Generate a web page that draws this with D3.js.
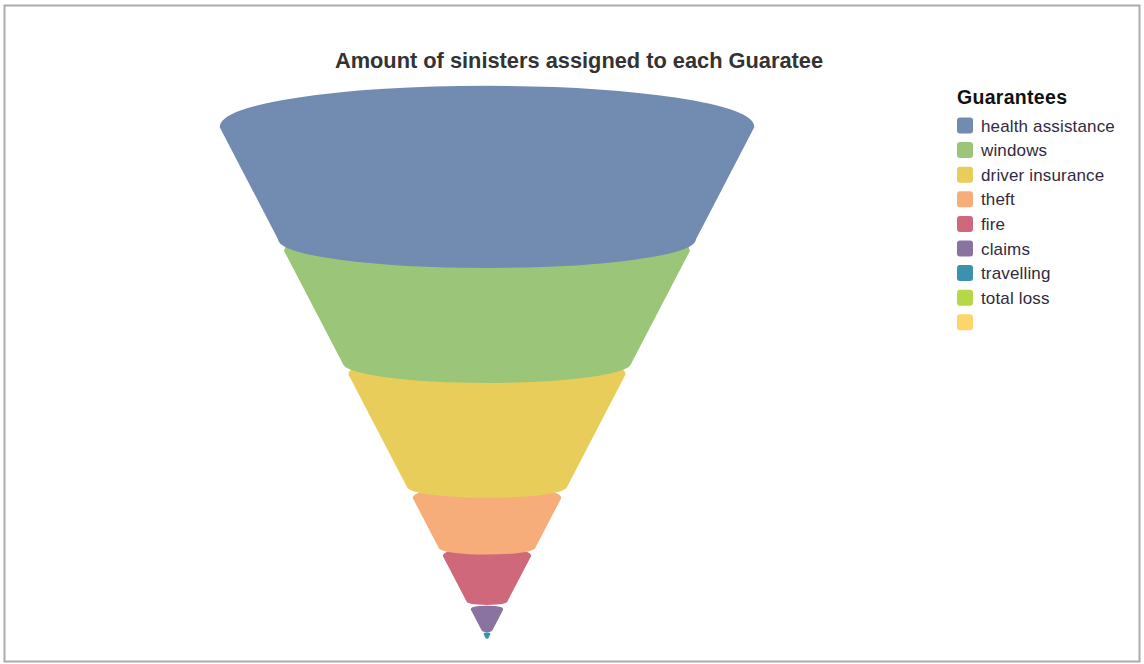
<!DOCTYPE html>
<html>
<head>
<meta charset="utf-8">
<script src="https://cdn.jsdelivr.net/npm/d3@7"></script>
<style>
  html, body { margin: 0; padding: 0; background: #fff; }
  svg { display: block; font-family: "Liberation Sans", Arial, sans-serif; }
</style>
</head>
<body>
<svg id="chart" width="1144" height="664"></svg>
<script>
// Guarantees and the number of sinisters for each
const categories = ["health assistance", "windows", "driver insurance", "theft", "fire", "claims", "travelling", "total loss", ""];
const values = [30, 30, 30, 14, 13, 6, 1, 0, 0];
const colors = ["#728bb1", "#9bc578", "#e8cd5a", "#f6ad79", "#cf687a", "#8a72a1", "#3a92ae", "#b6d846", "#fdd56b"];
const chartTitle = "Amount of sinisters assigned to each Guaratee";
const legendTitle = "Guarantees";

const W = 1144, H = 664;
const svg = d3.select("#chart");

// outer frame
svg.append("rect")
  .attr("x", 4.5).attr("y", 5.5)
  .attr("width", 1135).attr("height", 656)
  .attr("fill", "#fff")
  .attr("stroke", "#ababab").attr("stroke-width", 2);

// title
svg.append("text")
  .attr("x", 579).attr("y", 68)
  .attr("text-anchor", "middle")
  .attr("font-size", 21.8).attr("font-weight", "bold")
  .attr("fill", "#333")
  .text(chartTitle);

// funnel geometry: cumulative value -> vertical position, depth -> half width
const total = d3.sum(values);
const cx = 487, yTop = 127, yApex = 638, topHalfWidth = 266;
const y = d3.scaleLinear().domain([0, total]).range([yTop, yApex]);
const halfW = d3.scaleLinear().domain([yTop, yApex]).range([topHalfWidth, 0]);

const cum = [0];
values.forEach(v => cum.push(cum[cum.length - 1] + v));

const segments = categories.map((c, i) => {
  const y0 = y(cum[i]);
  const yEnd = y(cum[i + 1]);
  const gap = Math.min(12, (yEnd - y0) * 0.15);
  return { name: c, value: values[i], color: colors[i], y0: y0, y1: yEnd - gap, i: i };
}).filter(d => d.value > 0);

function segmentPath(d) {
  const w0 = halfW(d.y0), w1 = halfW(d.y1);
  const r0 = w0 * 0.15, r1 = w1 * 0.135;
  const p = d3.path();
  const k = 0.5523;
  p.moveTo(cx - w0, d.y0);
  // upper rim, bulging up
  p.bezierCurveTo(cx - w0, d.y0 - r0 * k, cx - w0 * k, d.y0 - r0, cx, d.y0 - r0);
  p.bezierCurveTo(cx + w0 * k, d.y0 - r0, cx + w0, d.y0 - r0 * k, cx + w0, d.y0);
  p.lineTo(cx + w1, d.y1);
  // lower rim, bulging down
  p.bezierCurveTo(cx + w1, d.y1 + r1 * k, cx + w1 * k, d.y1 + r1, cx, d.y1 + r1);
  p.bezierCurveTo(cx - w1 * k, d.y1 + r1, cx - w1, d.y1 + r1 * k, cx - w1, d.y1);
  p.closePath();
  return p.toString();
}

// draw bottom segments first so each upper rim sits in front
svg.append("g").selectAll("path")
  .data(segments.slice().reverse())
  .join("path")
  .attr("d", segmentPath)
  .attr("fill", d => d.color)
  .attr("stroke", d => d.color)
  .attr("stroke-width", 2.5)
  .attr("stroke-linejoin", "round");

// legend
const legend = svg.append("g").attr("transform", "translate(957,0)");
legend.append("text")
  .attr("x", 0).attr("y", 104)
  .attr("font-size", 19.5).attr("font-weight", "bold")
  .attr("letter-spacing", 0.3)
  .attr("fill", "#111")
  .text(legendTitle);

const ly = d3.scaleBand().domain(d3.range(categories.length)).range([114, 114 + 24.6 * categories.length]);
const items = legend.selectAll("g.item")
  .data(categories.map((c, i) => ({ name: c, color: colors[i], i: i })))
  .join("g").attr("class", "item")
  .attr("transform", d => `translate(0,${ly(d.i)})`);
items.append("rect")
  .attr("x", 0).attr("y", 3.5)
  .attr("width", 16).attr("height", 16)
  .attr("rx", 3).attr("ry", 3)
  .attr("fill", d => d.color);
items.append("text")
  .attr("x", 24).attr("y", 17.5)
  .attr("font-size", 17)
  .attr("letter-spacing", 0.15)
  .attr("fill", "#332a3e")
  .text(d => d.name);
</script>
</body>
</html>
